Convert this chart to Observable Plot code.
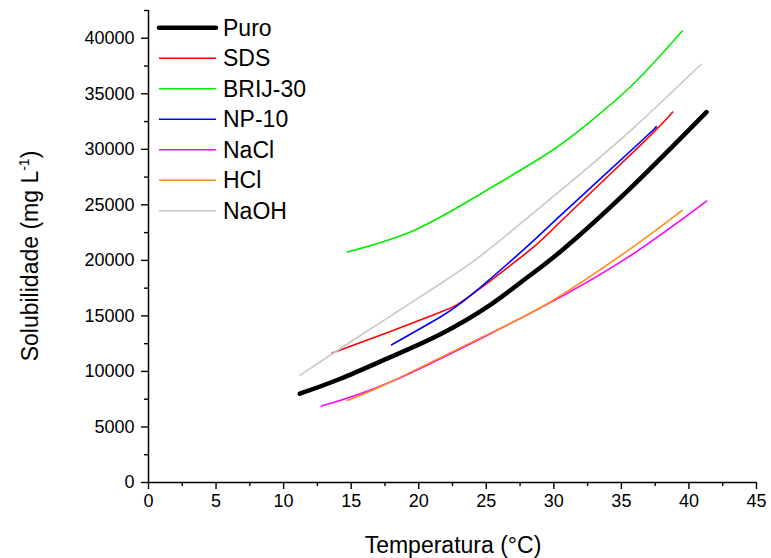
<!DOCTYPE html>
<html><head><meta charset="utf-8">
<script src="https://cdn.jsdelivr.net/npm/d3@7"></script>
<script src="https://cdn.jsdelivr.net/npm/@observablehq/plot@0.6"></script>
<style>
body{margin:0;background:#fff}
#chart svg{font-family:"Liberation Sans",Arial,sans-serif}
</style>
</head><body><div id="chart"></div>
<script>
// Series names and colours
const seriesNames = ["Puro","SDS","BRIJ-30","NP-10","NaCl","HCl","NaOH"];
const seriesColors = ["#000000","#ff0000","#00ee00","#0000ff","#ff00ff","#ff8c1a","#c8c8c8"];

// Temperature (°C) / solubility (mg L-1)
const puroT = [11.2,14.2,17.9,21.6,25.3,27.8,30.5,35.5,41.3];
const puroS = [8000,9340,11290,13350,16000,18250,20800,26300,33350];
const sdsT = [13.6,17.9,21.6,23.85,28.2,30.5,36.4,38.8];
const sdsS = [11650,13600,15340,16850,20900,23500,30360,33360];
const brijT = [14.7,19.65,24.6,29.5,32.5,35.9,39.5];
const brijS = [20750,22700,26000,29600,32300,35900,40660];
const npT = [18,21.6,24.0,27.7,30.5,36.4,37.5];
const npS = [12400,14900,17000,20900,24050,30660,31950];
const naclT = [12.8,17.9,25.3,29.8,35.5,41.3];
const naclS = [6880,9040,13400,16240,20300,25340];
const hclT = [14.7,17.9,25.3,29.8,35.5,39.5];
const hclS = [7390,9050,13450,16300,20900,24500];
const naohT = [11.2,15,21.6,25.1,30.5,35.7,40.9];
const naohS = [9640,12700,17900,20900,26300,31710,37660];

// Axis ticks
const xTicks = [0,5,10,15,20,25,30,35,40,45];
const xMinor = [2.5,7.5,12.5,17.5,22.5,27.5,32.5,37.5,42.5];
const yTicks = [0,5000,10000,15000,20000,25000,30000,35000,40000];
const yMinor = [2500,7500,12500,17500,22500,27500,32500,37500,42500];

const xLabel = "Temperatura (°C)";
const yLabel = "Solubilidade (mg L";
const yLabelSup = "-1";
const yLabelEnd = ")";

const seriesT = [puroT,sdsT,brijT,npT,naclT,hclT,naohT];
const seriesS = [puroS,sdsS,brijS,npS,naclS,hclS,naohS];
const rows = [];
seriesNames.forEach((name,i)=>{
  seriesT[i].forEach((t,j)=>rows.push({series:name,t,s:seriesS[i][j]}));
});
const puroRows = rows.filter(d=>d.series==="Puro");
const otherRows = rows.filter(d=>d.series!=="Puro");

const font = "Liberation Sans, Arial, sans-serif";
const plot = Plot.plot({
  width:771, height:558,
  marginLeft:148, marginRight:15, marginTop:10, marginBottom:76,
  style:{fontFamily:font, fontSize:"18px", color:"#000", background:"#fff", overflow:"visible"},
  x:{domain:[0,45]},
  y:{domain:[0,42500]},
  color:{domain:seriesNames, range:seriesColors},
  marks:[
    Plot.axisX({ticks:xTicks, tickSize:7, tickPadding:5, label:null, strokeWidth:1.4, fontSize:18}),
    Plot.axisX({ticks:xMinor, tickSize:4, tickFormat:()=>"", label:null, strokeWidth:1.4}),
    Plot.axisY({ticks:yTicks, tickSize:7, tickPadding:7, label:null, strokeWidth:1.4, fontSize:18, tickFormat:d=>String(d)}),
    Plot.axisY({ticks:yMinor, tickSize:4, tickFormat:()=>"", label:null, strokeWidth:1.4}),
    Plot.ruleX([0],{strokeWidth:1.5}),
    Plot.ruleY([0],{strokeWidth:1.5}),
    Plot.line(otherRows,{x:"t", y:"s", z:"series", stroke:"series", strokeWidth:1.6, curve:"natural"}),
    Plot.line(puroRows,{x:"t", y:"s", z:"series", stroke:"series", strokeWidth:4.5, strokeLinecap:"round", curve:"natural"})
  ]
});
document.getElementById("chart").appendChild(plot);

const svg = d3.select(plot);
// axis titles
svg.append("text").attr("x",453).attr("y",553).attr("text-anchor","middle")
  .attr("font-family",font).attr("font-size",23).attr("fill","#000").text(xLabel);
const yt = svg.append("text").attr("transform","translate(38,256) rotate(-90)")
  .attr("text-anchor","middle").attr("font-family",font).attr("font-size",23).attr("fill","#000");
yt.append("tspan").text(yLabel);
yt.append("tspan").attr("font-size",14).attr("dy",-9).text(yLabelSup);
yt.append("tspan").attr("dy",9).text(yLabelEnd);

// legend
const lg = svg.append("g").attr("text-anchor","start");
seriesNames.forEach((name,i)=>{
  const cy = 27.7 + i*30.5;
  lg.append("line").attr("x1",159).attr("x2",216).attr("y1",cy).attr("y2",cy)
    .attr("stroke",seriesColors[i]).attr("stroke-width",i===0?4.5:1.6)
    .attr("stroke-linecap",i===0?"round":"butt");
  lg.append("text").attr("x",223).attr("y",cy+8).attr("text-anchor","start").attr("font-family",font)
    .attr("font-size",23).attr("fill","#000").text(name);
});
</script>
</body></html>
